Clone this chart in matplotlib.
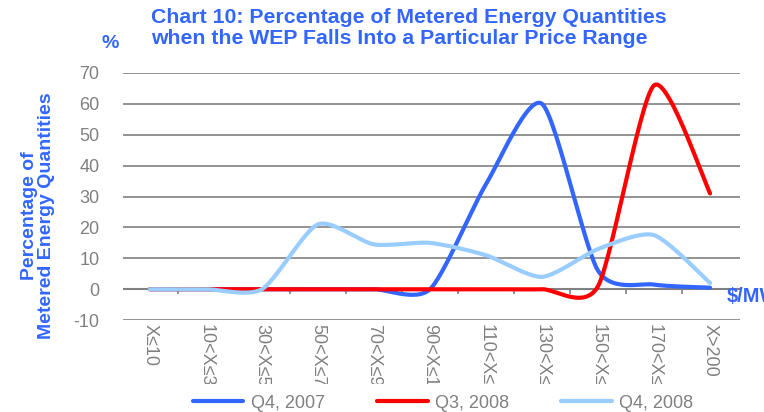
import numpy as np
import matplotlib.pyplot as plt
from matplotlib.transforms import Bbox

plt.rcParams['font.family'] = ['Liberation Sans', 'DejaVu Sans']
plt.rcParams['axes.unicode_minus'] = False

# Data
categories = ["X≤10", "10<X≤30", "30<X≤50", "50<X≤70", "70<X≤90", "90<X≤110",
              "110<X≤130", "130<X≤150", "150<X≤170", "170<X≤200", "X>200"]
q4_2007 = [0, 0, 0, 0, 0, 0, 34, 60, 6, 1.5, 0.5]
q3_2008 = [0, 0, 0, 0, 0, 0, 0, 0, 1, 66, 31]
q4_2008 = [0, 0, 0, 21, 14.5, 15, 11, 4, 13, 17.5, 2]

blue = '#3366FF'
red = '#FF0000'
light = '#99CCFF'
grey = '#808080'


def smooth(y, n=30, k=0.12):
    # Excel-like smoothed line (Bezier through points)
    y = np.asarray(y, dtype=float)
    x = np.arange(len(y), dtype=float)
    px = np.concatenate([[x[0]], x, [x[-1]]])
    py = np.concatenate([[y[0]], y, [y[-1]]])
    xs, ys = [], []
    t = np.linspace(0, 1, n)
    for i in range(1, len(px) - 2):
        p0 = np.array([px[i], py[i]])
        p3 = np.array([px[i + 1], py[i + 1]])
        p1 = p0 + (np.array([px[i + 1], py[i + 1]]) - np.array([px[i - 1], py[i - 1]])) * k
        p2 = p3 - (np.array([px[i + 2], py[i + 2]]) - np.array([px[i], py[i]])) * k
        b = ((1 - t)[:, None] ** 3 * p0 + 3 * ((1 - t) ** 2 * t)[:, None] * p1
             + 3 * ((1 - t) * t ** 2)[:, None] * p2 + (t ** 3)[:, None] * p3)
        xs.extend(b[:, 0])
        ys.extend(b[:, 1])
    return np.array(xs), np.array(ys)


fig = plt.figure(figsize=(7.64, 4.12), dpi=100)
ax = fig.add_axes([0.161, 0.223, 0.808, 0.600])

for vals, col, lab in [(q4_2007, blue, 'Q4, 2007'), (q3_2008, red, 'Q3, 2008'),
                       (q4_2008, light, 'Q4, 2008')]:
    sx, sy = smooth(vals)
    ax.plot(sx, sy, color=col, lw=3, label=lab, solid_capstyle='round', zorder=3)

ax.set_xlim(-0.48, 10.54)
ax.set_ylim(-10, 70)
ax.set_yticks(range(-10, 71, 10))
ax.yaxis.grid(True, color=grey, lw=1.2)
ax.set_axisbelow(True)
for s in ax.spines.values():
    s.set_visible(False)
# category axis at zero with tick marks between categories
ax.axhline(0, color=grey, lw=1.5, zorder=1)
ax.vlines(np.arange(len(categories)) - 0.5, -1.4, 0, color=grey, lw=1.2, zorder=1)

ax.tick_params(axis='y', length=0, labelsize=13, labelcolor=grey, pad=17)
ax.tick_params(axis='x', length=0, labelsize=13, labelcolor=grey, pad=3)
ax.set_xticks(range(len(categories)))
ax.set_xticklabels(categories, rotation=-90, va='top', ha='center')
clip = Bbox.from_extents(0, 28, 764, 412)
for t in ax.get_xticklabels():
    t.set_clip_box(clip)
    t.set_clip_on(True)

fig.text(38 / 764, 1 - 216 / 412, 'Percentage of\nMetered Energy Quantities', color=blue,
         fontsize=14, fontweight='bold', rotation=90, ha='center', va='center',
         linespacing=1.0, multialignment='center')

fig.text(151 / 764, 1 - 8 / 412, 'Chart 10: Percentage of Metered Energy Quantities\n'
         'when the WEP Falls Into a Particular Price Range',
         color=blue, fontsize=15.3, fontweight='bold', va='top', ha='left',
         linespacing=1.1)
fig.text(110 / 764, 1 - 43 / 412, '%', color=blue, fontsize=14, fontweight='bold',
         ha='center', va='center')
fig.text(727 / 764, 1 - 297 / 412, '$/MWh', color=blue, fontsize=14.5, fontweight='bold',
         ha='left', va='center')

fig.legend(loc='center', bbox_to_anchor=(443 / 764, 1 - 403 / 412), ncol=3, frameon=False,
           fontsize=13, labelcolor=grey, handlelength=2.8, handletextpad=0.4,
           columnspacing=2.9, borderpad=0)

fig.savefig('out.png', dpi=100)
